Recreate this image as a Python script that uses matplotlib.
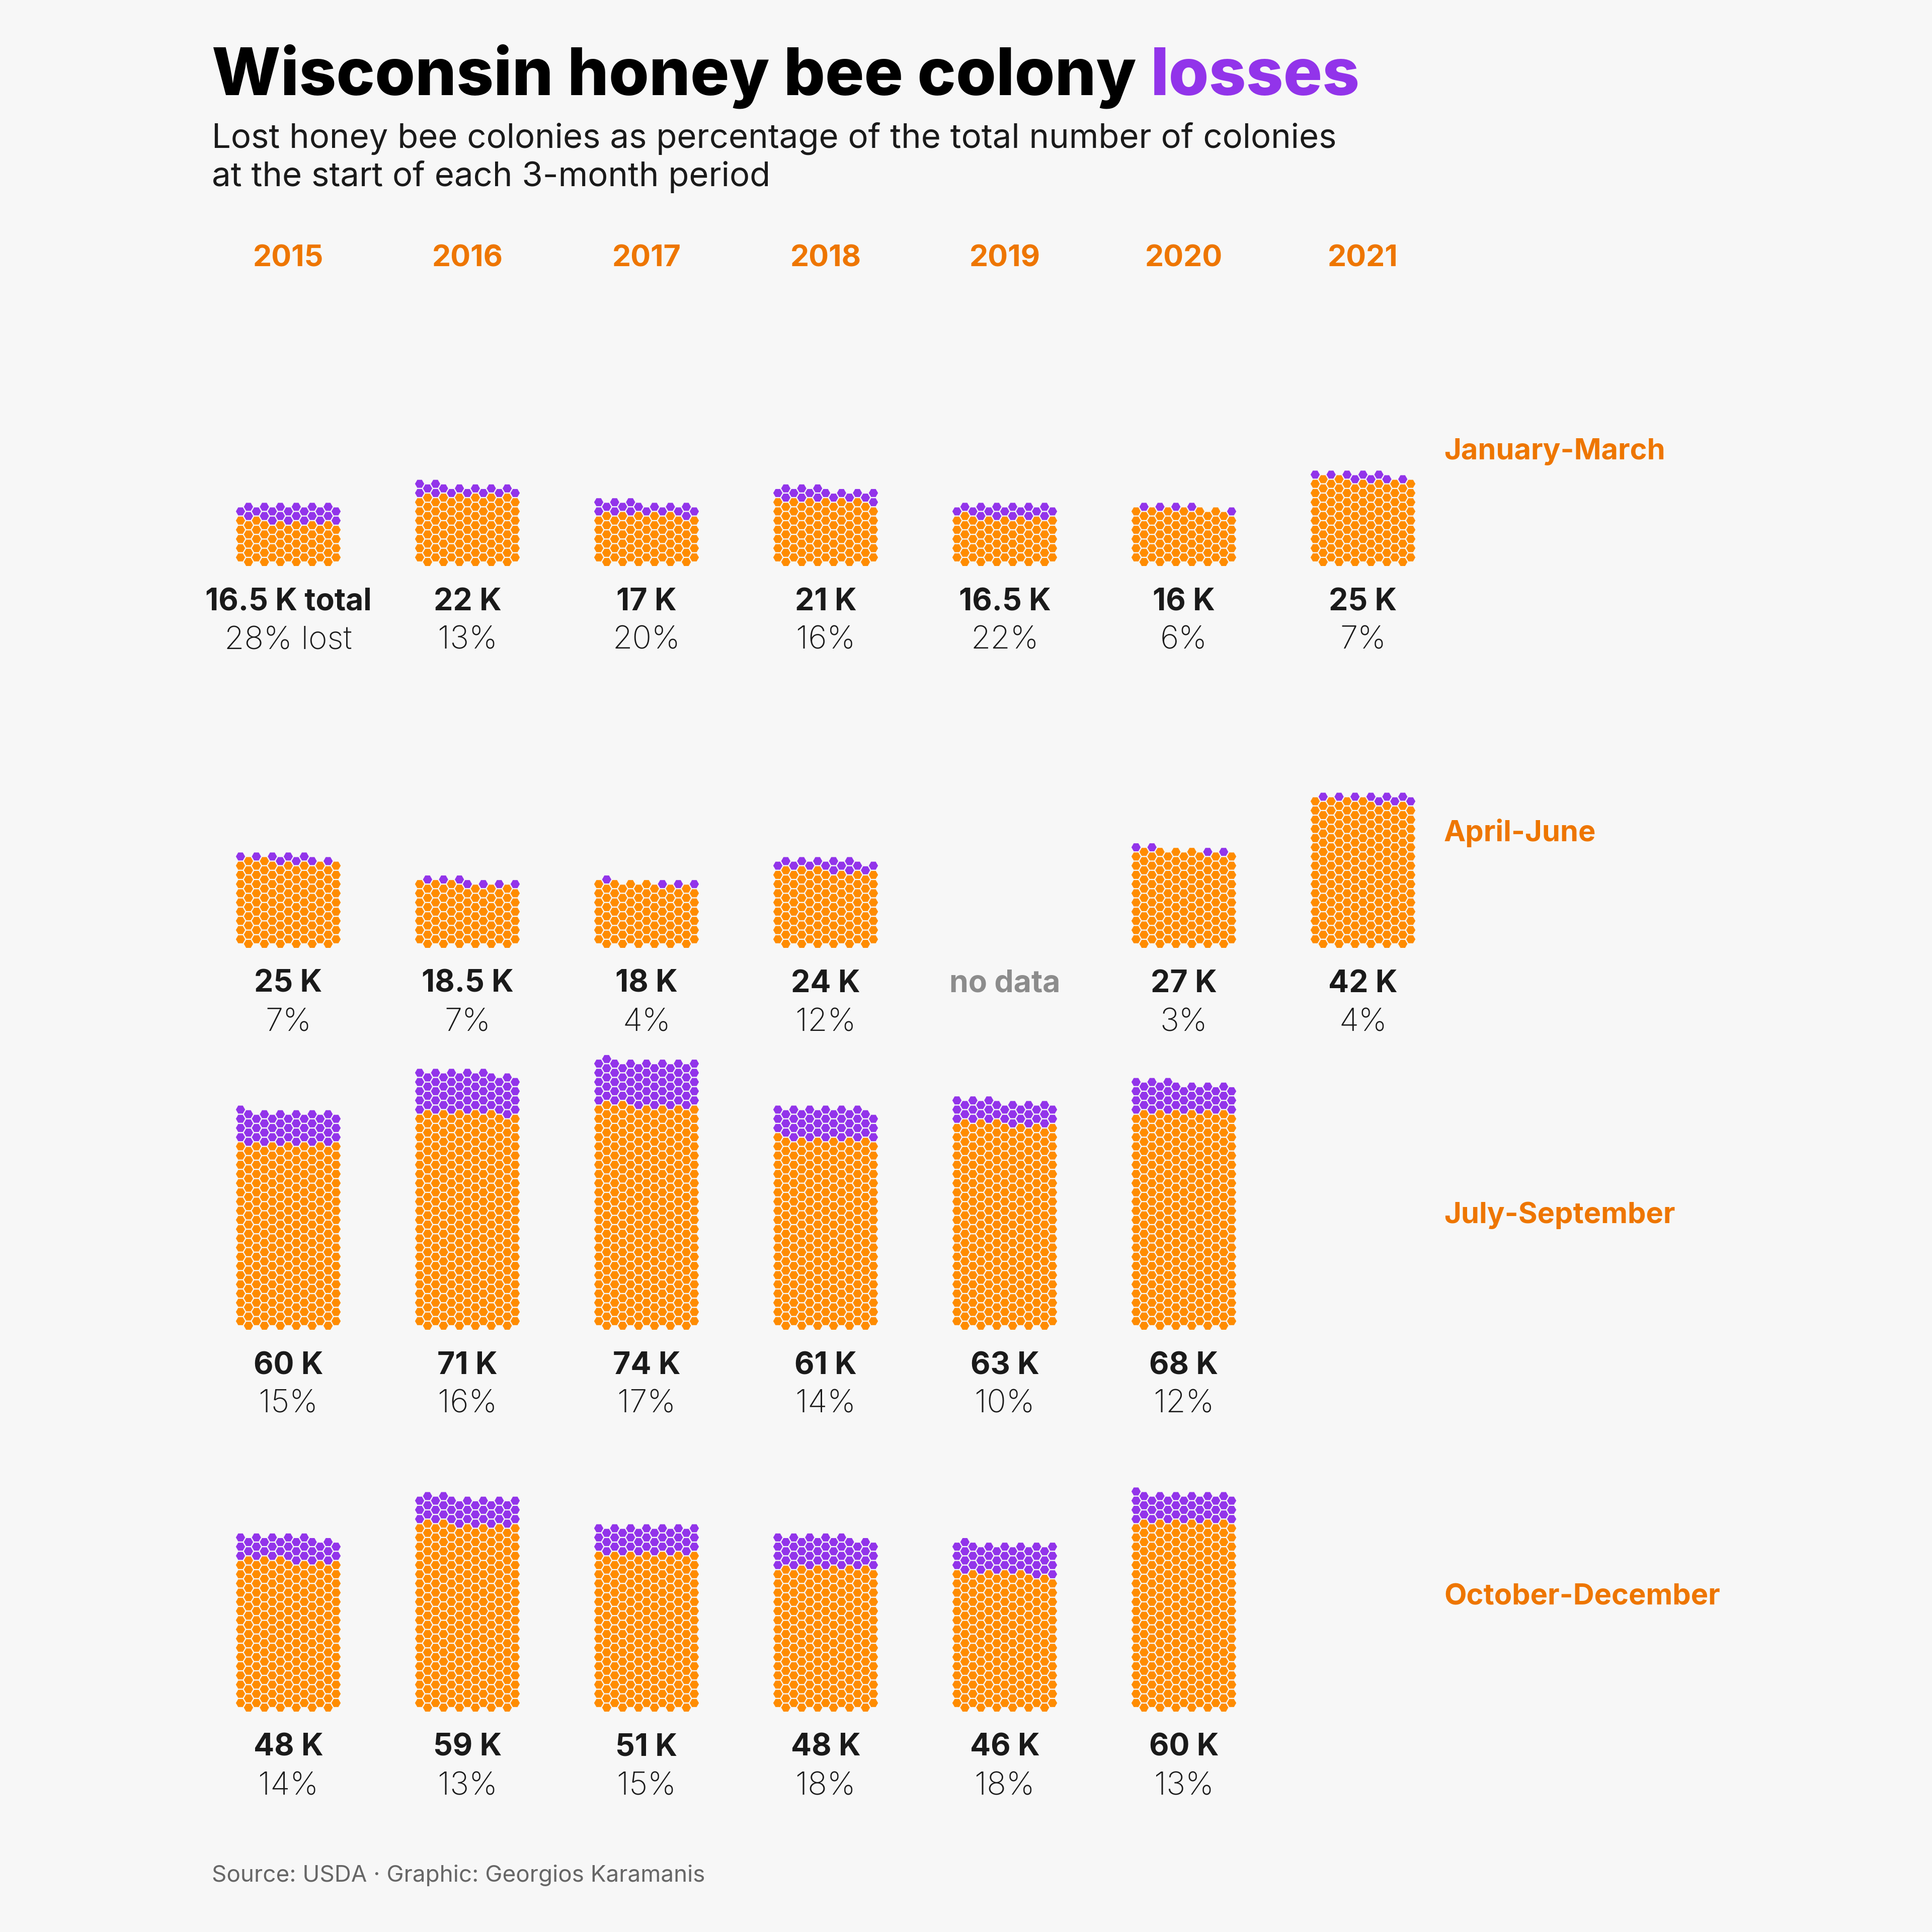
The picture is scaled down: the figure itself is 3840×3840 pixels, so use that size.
import numpy as np
import matplotlib
matplotlib.use("Agg")
import matplotlib.pyplot as plt
from matplotlib.patches import RegularPolygon
from matplotlib.collections import PatchCollection

# ---------------- data ----------------
years = [2015, 2016, 2017, 2018, 2019, 2020, 2021]
periods = ["January-March", "April-June", "July-September", "October-December"]

# total colonies (thousands) at the start of each period
colonies_k_jan_mar = [16.5, 22, 17, 21, 16.5, 16, 25]
colonies_k_apr_jun = [25, 18.5, 18, 24, None, 27, 42]
colonies_k_jul_sep = [60, 71, 74, 61, 63, 68, None]
colonies_k_oct_dec = [48, 59, 51, 48, 46, 60, None]

# percentage of colonies lost
lost_pct_jan_mar = [28, 13, 20, 16, 22, 6, 7]
lost_pct_apr_jun = [7, 7, 4, 12, None, 3, 4]
lost_pct_jul_sep = [15, 16, 17, 14, 10, 12, None]
lost_pct_oct_dec = [14, 13, 15, 18, 18, 13, None]

no_data_cells = [("April-June", 2019)]

colonies_k = [colonies_k_jan_mar, colonies_k_apr_jun, colonies_k_jul_sep, colonies_k_oct_dec]
lost_pct = [lost_pct_jan_mar, lost_pct_apr_jun, lost_pct_jul_sep, lost_pct_oct_dec]

COLONIES_PER_HEX = 196

# ---------------- style ----------------
BG = "#F7F7F7"
ORANGE = "#FF8C00"
ORANGE_TXT = "#EE7600"
PURPLE = "#9234EA"
DARK = "#1A1A1A"
FONT = ["Inter", "DejaVu Sans"]

W = 3840
fig = plt.figure(figsize=(12.8, 12.8), dpi=300, facecolor=BG)
ax = fig.add_axes([0, 0, 1, 1])
ax.set_xlim(0, W)
ax.set_ylim(W, 0)
ax.set_facecolor(BG)
ax.axis("off")

# layout (pixel units)
x0, x_step = 573, 356
y_bottom0, y_step = 1117, 759
ncol = 13
dx = 15.83
dy = 18.28
R = 9.2


def hex_positions(n):
    pts = []
    level = 0
    while len(pts) < n:
        cols = range(1, ncol, 2) if level % 2 == 0 else range(0, ncol, 2)
        for c in cols:
            if len(pts) < n:
                pts.append((c, level))
        level += 1
    return pts


patches_o, patches_p = [], []
for r, period in enumerate(periods):
    yb = y_bottom0 + r * y_step
    for i, yr in enumerate(years):
        cx = x0 + i * x_step
        tot = colonies_k[r][i]
        pct = lost_pct[r][i]
        if tot is None:
            if (period, yr) in no_data_cells:
                ax.text(cx, yb + 96, "no data", ha="center", va="baseline",
                        fontsize=14.6, fontweight="bold", color="#8C8C8C", family=FONT)
            continue
        n = int(round(tot * 1000 / COLONIES_PER_HEX))
        n_lost = int(round(n * pct / 100))
        pts = hex_positions(n)
        for k, (c, lev) in enumerate(pts):
            hx = cx + (c - 6) * dx
            hy = yb - lev * dy / 2
            poly = RegularPolygon((hx, hy), numVertices=6, radius=R, orientation=np.pi / 6)
            (patches_o if k < n - n_lost else patches_p).append(poly)
        tot_lbl = (f"{tot:g} K total" if (r == 0 and i == 0) else f"{tot:g} K")
        pct_lbl = (f"{pct}% lost" if (r == 0 and i == 0) else f"{pct}%")
        ax.text(cx, yb + 96, tot_lbl, ha="center", va="baseline", fontsize=14.6,
                fontweight="bold", color=DARK, family=FONT)
        ax.text(cx, yb + 173, pct_lbl, ha="center", va="baseline", fontsize=15.3,
                fontweight="light", color=DARK, family=FONT)
    ax.text(2870, yb - 204, period, ha="left", va="baseline", fontsize=13.9,
            fontweight="bold", color=ORANGE_TXT, family=FONT)

ax.add_collection(PatchCollection(patches_o, facecolor=ORANGE, edgecolor="none"))
ax.add_collection(PatchCollection(patches_p, facecolor=PURPLE, edgecolor="none"))

for i, yr in enumerate(years):
    ax.text(x0 + i * x_step, 529, str(yr), ha="center", va="baseline", fontsize=14.2,
            fontweight="bold", color=ORANGE_TXT, family=FONT)

# title
TS = 31.0
t1 = ax.text(421, 189, "Wisconsin honey bee colony", ha="left", va="baseline",
             fontsize=TS, fontweight="heavy", color="black", family=FONT)
fig.canvas.draw()
rend = fig.canvas.get_renderer()
bb = t1.get_window_extent(rend)
tmp = ax.text(0, 0, "a a", fontsize=TS, fontweight="heavy", family=FONT)
tmp2 = ax.text(0, 0, "aa", fontsize=TS, fontweight="heavy", family=FONT)
space = tmp.get_window_extent(rend).width - tmp2.get_window_extent(rend).width
tmp.remove(); tmp2.remove()
x_end = ax.transData.inverted().transform((bb.x1 + space, bb.y0))[0]
ax.text(x_end, 189, "losses", ha="left", va="baseline", fontsize=TS,
        fontweight="heavy", color=PURPLE, family=FONT)

ax.text(421, 294, "Lost honey bee colonies as percentage of the total number of colonies",
        ha="left", va="baseline", fontsize=16.1, color=DARK, family=FONT)
ax.text(421, 370, "at the start of each 3-month period",
        ha="left", va="baseline", fontsize=16.1, color=DARK, family=FONT)

ax.text(421, 3740, "Source: USDA \u00b7 Graphic: Georgios Karamanis", ha="left", va="baseline",
        fontsize=11, color="#666666", family=FONT)

fig.savefig("out.png", dpi=300, facecolor=BG)
